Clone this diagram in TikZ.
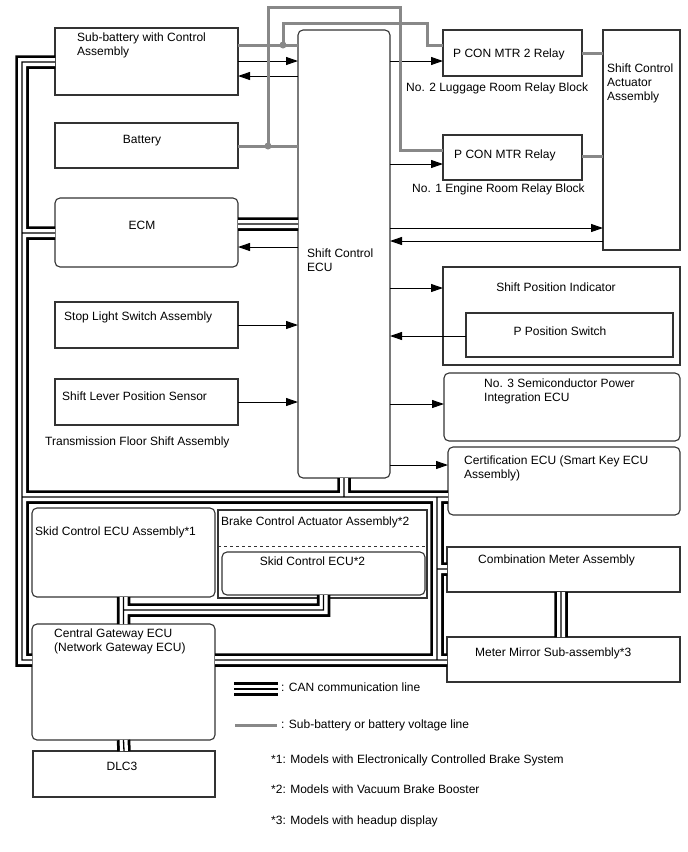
\documentclass[tikz,border=0pt]{standalone}
\usepackage{fontspec}
\setmainfont{Liberation Sans}
\usetikzlibrary{
  arrows.meta,
  positioning,
  calc
}
\definecolor{BoxInk}{HTML}{333333}
\definecolor{VoltGray}{HTML}{888888}
\tikzset{
  % Plain unit box
  part/.style={
    rectangle, draw=BoxInk, fill=white,
    line width=1.1pt, inner sep=0pt, outer sep=0pt
  },
  % Rounded ECU box
  rpart/.style={part, rounded corners=5pt},
  % Box and note text
  txt/.style={font=\fontsize{12}{14}\selectfont, inner sep=0pt, align=left, anchor=west},
  % Signal arrow
  arr/.style={
    -{Triangle[length=12pt,width=8pt]},
    line width=1pt, color=black
  },
  % Sub-battery / battery voltage line
  volt/.style={line width=3pt, color=VoltGray},
  % CAN communication line (triple)
  can/.style={
    line width=13.5pt, draw=black, line join=miter,
    postaction={draw=white, line width=8pt},
    postaction={draw=black, line width=1.3pt}
  }
}

\begin{document}
\begin{tikzpicture}[x=1pt, y=-1pt]
  \useasboundingbox (0,0) rectangle (688,852);

  % Left column
  \node[part,  minimum width=183pt, minimum height=67pt] (subbat)  at (146.5,61.5)  {};
  \node[part,  minimum width=183pt, minimum height=45pt] (battery) at (146.5,145.5) {};
  \node[rpart, minimum width=183pt, minimum height=69pt] (ecm)     at (146.5,232.5) {};
  \node[part,  minimum width=183pt, minimum height=46pt] (stoplt)  at (146.5,325)   {};
  \node[part,  minimum width=183pt, minimum height=46pt] (lever)   at (146.5,402)   {};

  % Shift Control ECU
  \node[rpart, minimum width=92pt, minimum height=448pt] (ecu) at (344,254) {};

  % Right column
  \node[part,  minimum width=139pt, minimum height=46pt]  (relay2)  at (512.5,53)    {};
  \node[part,  minimum width=139pt, minimum height=45pt]  (relay1)  at (512.5,157.5) {};
  \node[part,  minimum width=77pt,  minimum height=220pt] (actr)    at (641.5,140)   {};
  \node[part,  minimum width=237pt, minimum height=98pt]  (indic)   at (561.5,316)   {};
  \node[part,  minimum width=207pt, minimum height=44pt]  (pswitch) at (569.5,335)   {};
  \node[rpart, minimum width=236pt, minimum height=68pt]  (semi)    at (562,407)     {};
  \node[rpart, minimum width=232pt, minimum height=68pt]  (cert)    at (564,481)     {};

  % Lower half
  \node[rpart, minimum width=183pt, minimum height=89pt]  (skid1)   at (123.5,552.5) {};
  \node[part,  minimum width=209pt, minimum height=88pt]  (brake)   at (322.5,554)   {};
  \node[rpart, minimum width=203pt, minimum height=43pt]  (skid2)   at (323.5,573.5) {};
  \node[part,  minimum width=233pt, minimum height=45pt]  (combo)   at (563.5,569.5) {};
  \node[part,  minimum width=233pt, minimum height=45pt]  (mirror)  at (563.5,659.5) {};
  \node[rpart, minimum width=183pt, minimum height=116pt] (gateway) at (123.5,682)   {};
  \node[part,  minimum width=182pt, minimum height=46pt]  (dlc)     at (124,774)     {};

  \draw[BoxInk, dashed, line width=1pt] (brake.west |- 0,546) -- (brake.east |- 0,546);

  % Texts
  \node[txt] (subbat-t) at (77,45) {Sub-battery with Control\\Assembly};
  \node[txt, anchor=center] (battery-t) at (142,141) {Battery};
  \node[txt, anchor=center] (ecm-t) at (142,225) {ECM};
  \node[txt] (stoplt-t) at (64,317) {Stop Light Switch Assembly};
  \node[txt] (lever-t) at (62,396) {Shift Lever Position Sensor};
  \node[txt] (trans-t) at (45,442) {Transmission Floor Shift Assembly};
  \node[txt] (ecu-t) at (307,260) {Shift Control\\ECU};
  \node[txt] (relay2-t) at (453,54) {P CON MTR 2 Relay};
  \node[txt] (lug-t) at (406,88) {No. 2 Luggage Room Relay Block};
  \node[txt] (relay1-t) at (454,155) {P CON MTR Relay};
  \node[txt] (eng-t) at (412,189) {No. 1 Engine Room Relay Block};
  \node[txt] (actr-t) at (607,83) {Shift Control\\Actuator\\Assembly};
  \node[txt, anchor=center] (indic-t) at (556,287) {Shift Position Indicator};
  \node[txt, anchor=center] (pswitch-t) at (560,331) {P Position Switch};
  \node[txt] (semi-t) at (484,391.5) {No. 3 Semiconductor Power\\Integration ECU};
  \node[txt] (cert-t) at (464,468.5) {Certification ECU (Smart Key ECU\\Assembly)};
  \node[txt] (skid1-t) at (35,532) {Skid Control ECU Assembly*1};
  \node[txt] (brake-t) at (221,522) {Brake Control Actuator Assembly*2};
  \node[txt, anchor=center] (skid2-t) at (312.5,561) {Skid Control ECU*2};
  \node[txt] (gateway-t) at (54,641) {Central Gateway ECU\\(Network Gateway ECU)};
  \node[txt] (combo-t) at (478,560) {Combination Meter Assembly};
  \node[txt] (mirror-t) at (475,653) {Meter Mirror Sub-assembly*3};
  \node[txt, anchor=center] (dlc-t) at (122,766) {DLC3};

  % Signal arrows
  \draw[arr] (subbat.east |- 0,61) -- (ecu.west |- 0,61);
  \draw[arr] (ecu.west |- 0,76) -- (subbat.east |- 0,76);
  \draw[arr] (ecu.west |- 0,247) -- (ecm.east |- 0,247);
  \draw[arr] (stoplt.east |- 0,325) -- (ecu.west |- 0,325);
  \draw[arr] (lever.east |- 0,402) -- (ecu.west |- 0,402);
  \draw[arr] (ecu.east |- 0,61) -- (relay2.west |- 0,61);
  \draw[arr] (ecu.east |- 0,164) -- (relay1.west |- 0,164);
  \draw[arr] (ecu.east |- 0,228) -- (actr.west |- 0,228);
  \draw[arr] (actr.west |- 0,241) -- (ecu.east |- 0,241);
  \draw[arr] (ecu.east |- 0,288) -- (indic.west |- 0,288);
  \draw[arr] (pswitch.west |- 0,336) -- (ecu.east |- 0,336);
  \draw[arr] (ecu.east |- 0,404) -- (semi.west |- 0,404);
  \draw[arr] (ecu.east |- 0,465) -- (cert.west |- 0,465);

  % Voltage lines
  \coordinate (j1) at (283,45);
  \coordinate (j2) at (268,146);
  \draw[volt] (subbat.east |- j1) -- (ecu.west |- j1);
  \draw[volt] (j1) |- (427,23) |- (relay2.west |- 0,45);
  \draw[volt] (battery.east |- j2) -- (ecu.west |- j2);
  \draw[volt] (j2) |- (400,7) |- (relay1.west |- 0,150);
  \draw[volt] (relay2.east |- 0,53) -- (actr.west |- 0,53);
  \draw[volt] (relay1.east |- 0,156) -- (actr.west |- 0,156);
  \fill[VoltGray] (j1) circle (3.5pt) (j2) circle (3.5pt);

  % CAN bus
  \coordinate (lbus-top) at (22,62);
  \coordinate (lbus-ecm) at (22,233);
  \coordinate (lbus-mid) at (22,497);
  \coordinate (lbus-bot) at (22,660);
  \coordinate (rbus-top) at (437,497);
  \coordinate (rbus-cmb) at (437,569);
  \coordinate (rbus-bot) at (437,660);
  \coordinate (skid-tap) at (123.5,610);
  \draw[can]
    (subbat.west |- lbus-top) -- (lbus-top) -- (lbus-bot) -- (gateway.west |- lbus-bot)
    (gateway.east |- lbus-bot) -- (mirror.west |- lbus-bot)
    (lbus-ecm) -- (ecm.west |- lbus-ecm)
    (ecm.east |- 0,224) -- (ecu.west |- 0,224)
    (lbus-mid) -- (cert.west |- lbus-mid)
    (ecu.south) -- (ecu.south |- lbus-mid)
    (rbus-top) -- (rbus-bot)
    (rbus-cmb) -- (combo.west |- rbus-cmb)
    (skid1.south) -- (gateway.north)
    (skid-tap) -| (skid2.south)
    (combo.south -| 561,0) -- (mirror.north -| 561,0)
    (gateway.south) -- (dlc.north);

  % Legend
  \coordinate (leg-a) at (234,689);
  \coordinate (leg-b) at (278,689);
  \coordinate (leg-c) at (235,725);
  \coordinate (leg-d) at (277,725);
  \draw[can] (leg-a) -- (leg-b);
  \draw[volt] (leg-c) -- (leg-d);
  \node[txt] (leg-can) at (281,687) {: CAN communication line};
  \node[txt] (leg-volt) at (281,725) {: Sub-battery or battery voltage line};
  \node[txt] (note1) at (271,760) {*1: Models with Electronically Controlled Brake System};
  \node[txt] (note2) at (271,789) {*2: Models with Vacuum Brake Booster};
  \node[txt] (note3) at (271,821) {*3: Models with headup display};

\end{tikzpicture}
\end{document}
